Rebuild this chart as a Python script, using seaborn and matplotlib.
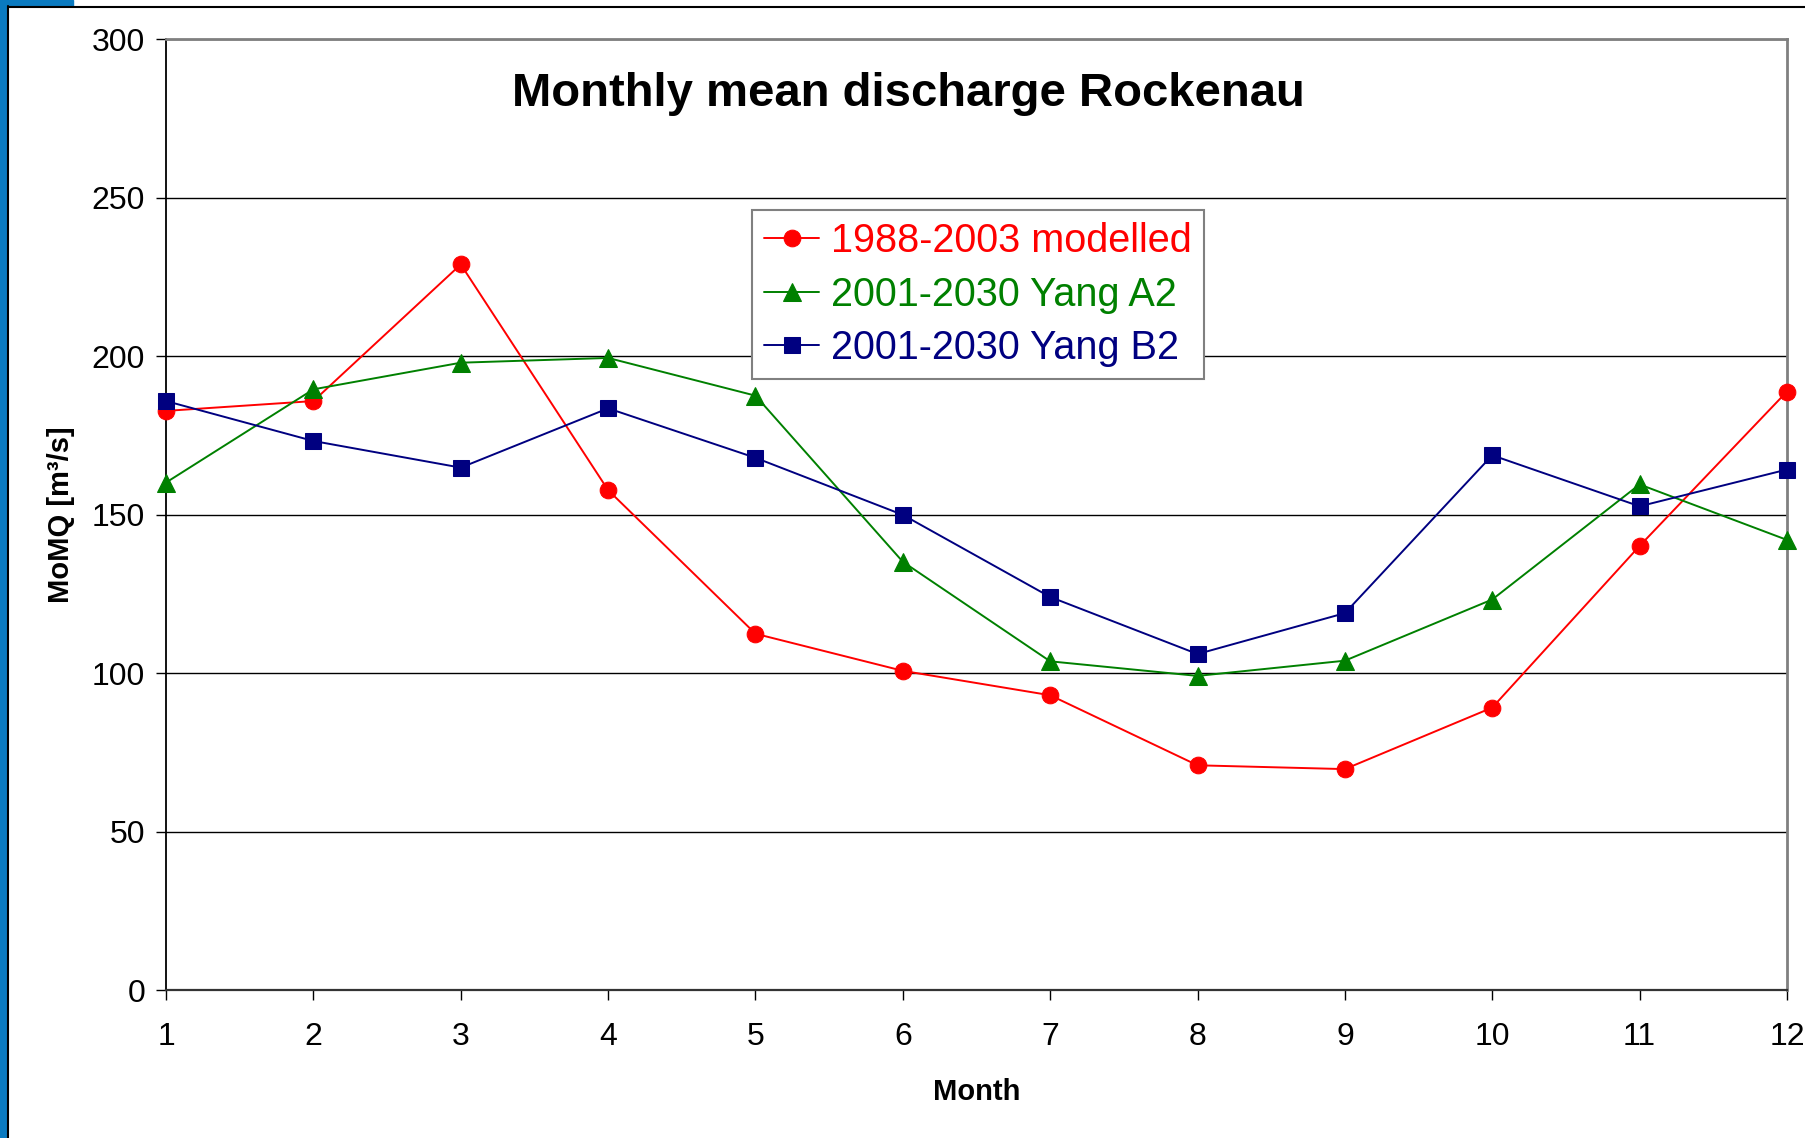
import pandas as pd
import matplotlib.pyplot as plt
import seaborn as sns
from matplotlib.patches import Rectangle
from matplotlib.lines import Line2D

# datos
months = list(range(1, 13))
modelled_1988_2003 = [182.7, 185.8, 228.9, 157.7, 112.4, 100.7, 93.0, 70.9, 69.7, 89.1, 140.1, 188.8]
yang_a2 = [160.1, 189.5, 197.9, 199.4, 187.5, 135.1, 103.7, 99.1, 103.9, 123.2, 159.5, 142.0]
yang_b2 = [185.8, 173.2, 164.8, 183.5, 167.9, 149.9, 124.0, 106.0, 118.9, 168.7, 152.6, 164.2]

series_names = ["1988-2003 modelled", "2001-2030 Yang A2", "2001-2030 Yang B2"]
series_values = [modelled_1988_2003, yang_a2, yang_b2]
colors = ["#FF0000", "#008000", "#000080"]
markers = ["o", "^", "s"]
marker_sizes = [12, 13, 11]

y_ticks = [0, 50, 100, 150, 200, 250, 300]

sns.set_theme(style="white")
plt.rcParams["font.family"] = ["Liberation Sans", "DejaVu Sans"]
plt.rcParams["text.color"] = "black"
plt.rcParams["axes.labelcolor"] = "black"
plt.rcParams["xtick.color"] = "black"
plt.rcParams["ytick.color"] = "black"

fig = plt.figure(figsize=(18.05, 11.38), dpi=100)
ax = fig.add_axes([0.092, 0.130, 0.898, 0.8357])

for name, vals, c, m, ms in zip(series_names, series_values, colors, markers, marker_sizes):
    df = pd.DataFrame({"Month": months, "MoMQ": vals})
    sns.lineplot(data=df, x="Month", y="MoMQ", ax=ax, color=c, marker=m,
                 markersize=ms, markeredgecolor=c, linewidth=1.4, label=name,
                 clip_on=False, zorder=3)

ax.set_xlim(1, 12)
ax.set_ylim(0, 300)
ax.set_xticks(months)
ax.set_yticks(y_ticks)
ax.yaxis.grid(True, color="#000000", linewidth=1.0)
ax.xaxis.grid(False)
ax.tick_params(axis="both", which="major", labelsize=23, direction="out",
               length=7, width=1.0, color="#000000", left=True, bottom=True)
ax.tick_params(axis="x", pad=16)
ax.tick_params(axis="y", pad=8)

ax.spines["left"].set_color("#000000")
ax.spines["left"].set_linewidth(1.3)
ax.spines["bottom"].set_color("#333333")
ax.spines["bottom"].set_linewidth(1.6)
for s in ["top", "right"]:
    ax.spines[s].set_color("#808080")
    ax.spines[s].set_linewidth(2.0)

ax.set_xlabel("Month", fontsize=21, fontweight="bold")
ax.set_ylabel("MoMQ [m³/s]", fontsize=21, fontweight="bold")
ax.xaxis.set_label_coords(0.5, -0.092)
ax.yaxis.set_label_coords(-0.056, 0.5)

ax.text(0.458, 0.942, "Monthly mean discharge Rockenau", transform=ax.transAxes,
        ha="center", va="center", fontsize=34, fontweight="bold",
        family=["Liberation Sans Narrow", "Liberation Sans", "DejaVu Sans"])

leg = ax.legend(loc="upper left", bbox_to_anchor=(0.3615, 0.820), borderaxespad=0,
                fontsize=28.5, fancybox=False, framealpha=1, edgecolor="#808080",
                handlelength=1.4, handletextpad=0.3, labelspacing=0.39,
                borderpad=0.3)
leg.get_frame().set_linewidth(1.5)
for txt, c in zip(leg.get_texts(), colors):
    txt.set_color(c)

# borde de la diapositiva
fig.add_artist(Rectangle((0, 0), 7 / 1805, 1, transform=fig.transFigure,
                         color="#0a7ac0", zorder=0))
fig.add_artist(Rectangle((0, 1 - 6 / 1138), 73 / 1805, 6 / 1138, transform=fig.transFigure,
                         color="#0a7ac0", zorder=0))
fig.add_artist(Line2D([7.5 / 1805, 7.5 / 1805], [0, 1 - 6 / 1138], transform=fig.transFigure,
                      color="black", linewidth=1.5))
fig.add_artist(Line2D([7.5 / 1805, 1], [1 - 6.5 / 1138, 1 - 6.5 / 1138], transform=fig.transFigure,
                      color="black", linewidth=1.5))

fig.savefig("out.png", dpi=100)
